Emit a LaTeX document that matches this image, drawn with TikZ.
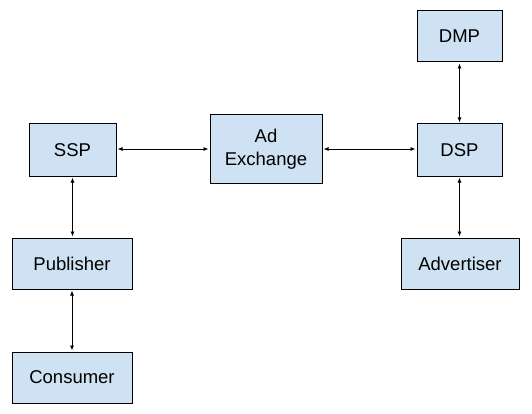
\documentclass[tikz,border=0pt]{standalone}
\usepackage{fontspec}
\setmainfont{Liberation Sans}
\usetikzlibrary{arrows.meta}

\begin{document}
\begin{tikzpicture}[x = 1pt, y = -1pt,
  box/.style = {draw, line width = 1pt, fill = boxblue, inner sep = 0pt,
    align = center, font = \fontsize{18.5}{23}\selectfont},
  link/.style = {line width = 0.8pt, {Latex[length = 5pt, width = 4pt]}-{Latex[length = 5pt, width = 4pt]}, shorten <= 1pt, shorten >= 1pt}]
\definecolor{boxblue}{HTML}{CFE2F3}
\useasboundingbox (0, 0) rectangle (532, 414);
\node[box, minimum width = 85pt, minimum height = 51pt] (dmp) at (459.5, 36.5) {DMP};
\node[box, minimum width = 87pt, minimum height = 52pt] (ssp) at (72.5, 150) {SSP};
\node[box, minimum width = 112pt, minimum height = 68pt] (adx) at (266, 149) {Ad\\Exchange};
\node[box, minimum width = 85pt, minimum height = 52pt] (dsp) at (459.5, 150) {DSP};
\node[box, minimum width = 120pt, minimum height = 51pt] (pub) at (72, 263.5) {Publisher};
\node[box, minimum width = 118pt, minimum height = 51pt] (adv) at (460, 263.5) {Advertiser};
\node[box, minimum width = 120pt, minimum height = 51pt] (con) at (72, 377.5) {Consumer};
\draw[link] (ssp.east |- adx) -- (adx.west);
\draw[link] (adx.east) -- (dsp.west |- adx);
\draw[link] (dmp) -- (dsp);
\draw[link] (dsp) -- (dsp |- adv.north);
\draw[link] (ssp) -- (ssp |- pub.north);
\draw[link] (pub) -- (pub |- con.north);
\end{tikzpicture}
\end{document}
